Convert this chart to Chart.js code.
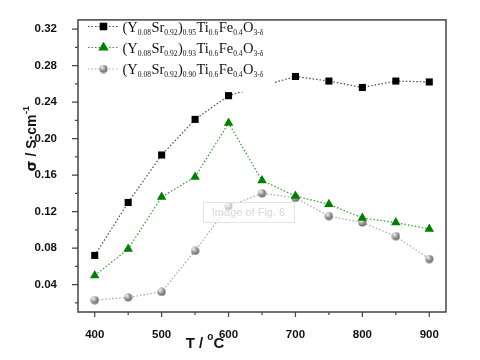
<!DOCTYPE html>
<html>
<head>
<meta charset="utf-8">
<script src="https://cdn.jsdelivr.net/npm/chart.js@4.4.1/dist/chart.umd.min.js"></script>
<style>
  html, body { margin: 0; padding: 0; background: #fff; }
  #wrap { width: 480px; height: 360px; }
</style>
</head>
<body>
<div id="wrap"><canvas id="sigmaChart" width="480" height="360"></canvas></div>
<script>
// temperatures (°C) and conductivities (S/cm)
const temps = [400, 450, 500, 550, 600, 650, 700, 750, 800, 850, 900];
const sigma095 = [0.072, 0.130, 0.182, 0.221, 0.247, null, 0.268, 0.263, 0.256, 0.263, 0.262];
const sigma093 = [0.050, 0.079, 0.136, 0.158, 0.217, 0.154, 0.137, 0.128, 0.113, 0.108, 0.101];
const sigma090 = [0.023, 0.026, 0.032, 0.077, 0.126, 0.140, 0.135, 0.115, 0.108, 0.093, 0.068];

const names = [
    "(Y_{0.08}Sr_{0.92})_{0.95}Ti_{0.6}Fe_{0.4}O_{3-δ}",
    "(Y_{0.08}Sr_{0.92})_{0.93}Ti_{0.6}Fe_{0.4}O_{3-δ}",
    "(Y_{0.08}Sr_{0.92})_{0.90}Ti_{0.6}Fe_{0.4}O_{3-δ}"
];

const xTicks = [400, 500, 600, 700, 800, 900];
const xMinor = [450, 550, 650, 750, 850];
const yTicks = [0.04, 0.08, 0.12, 0.16, 0.20, 0.24, 0.28, 0.32];
const yMinor = [0.02, 0.06, 0.10, 0.14, 0.18, 0.22, 0.26, 0.30];

const font = "'Liberation Sans', Arial, sans-serif";
const serif = "'Liberation Serif', 'Times New Roman', serif";

// small shaded sphere for the grey series
function makeSphere(r){
    let c = document.createElement("canvas");
    c.width = r * 2 + 1;
    c.height = r * 2 + 1;
    let g = c.getContext("2d");
    let grad = g.createRadialGradient(r * 0.7, r * 0.6, 0.5, r, r, r);
    grad.addColorStop(0, "#f2f2f2");
    grad.addColorStop(0.5, "#a8a8a8");
    grad.addColorStop(1, "#6e6e6e");
    g.fillStyle = grad;
    g.beginPath();
    g.arc(r + 0.5, r + 0.5, r, 0, Math.PI * 2);
    g.fill();
    return c;
}
const sphere = makeSphere(4);

function points(values){
    return temps.map((t, i) => ({x: t, y: values[i]}));
}

// split "A_{b}C" style text into [text, isSub] parts
function parts(str){
    let out = [];
    let re = /_\{([^}]*)\}|([^_]+)/g;
    let m;
    while ((m = re.exec(str)) !== null) {
        if (m[1] !== undefined) out.push([m[1], true]);
        else out.push([m[2], false]);
    }
    return out;
}

const extras = {
    id: "extras",
    afterDatasetsDraw(chart){
        let ctx = chart.ctx;
        let a = chart.chartArea;
        let xs = chart.scales.x;
        let ys = chart.scales.y;
        ctx.save();

        // watermark
        ctx.fillStyle = "rgba(255,255,255,0.6)";
        ctx.fillRect(203, 202, 91, 20);
        ctx.strokeStyle = "#e4e4e4";
        ctx.lineWidth = 1;
        ctx.strokeRect(203.5, 202.5, 91, 20);
        ctx.fillStyle = "#d8d8d8";
        ctx.font = "11px " + font;
        ctx.textAlign = "center";
        ctx.textBaseline = "middle";
        ctx.fillText("Image of Fig. 6", 248.5, 212.5);

        // legend
        ctx.fillStyle = "#fff";
        ctx.fillRect(a.left + 6, a.top + 2, 190, 70);
        let rowY = [26.5, 47.5, 69];
        chart.data.datasets.forEach((ds, i) => {
            let y = rowY[i];
            ctx.strokeStyle = ds.borderColor;
            ctx.lineWidth = 1.2;
            ctx.setLineDash([1.5, 2]);
            ctx.beginPath();
            ctx.moveTo(88, y);
            ctx.lineTo(118, y);
            ctx.stroke();
            ctx.setLineDash([]);
            ctx.fillStyle = ds.pointBackgroundColor;
            ctx.strokeStyle = ds.pointBorderColor;
            ctx.lineWidth = 0.5;
            Chart.helpers.drawPoint(ctx, {
                pointStyle: ds.pointStyle,
                radius: ds.pointRadius,
                borderWidth: 0.5
            }, 103.5, y);
            let x = 122.5;
            ctx.fillStyle = "#111";
            ctx.textAlign = "left";
            ctx.textBaseline = "alphabetic";
            parts(names[i]).forEach(p => {
                ctx.font = (p[1] ? "7.5px " : "14.5px ") + serif;
                ctx.fillText(p[0], x, y + (p[1] ? 8 : 5));
                x += ctx.measureText(p[0]).width + (p[1] ? 0.5 : 0);
            });
        });

        // frame and tick marks
        ctx.strokeStyle = "#444";
        ctx.lineWidth = 1.5;
        ctx.strokeRect(a.left, a.top, a.right - a.left, a.bottom - a.top);
        ctx.lineWidth = 1.2;
        ctx.beginPath();
        xTicks.forEach(v => {
            let px = xs.getPixelForValue(v);
            ctx.moveTo(px, a.bottom); ctx.lineTo(px, a.bottom + 5);
        });
        xMinor.forEach(v => {
            let px = xs.getPixelForValue(v);
            ctx.moveTo(px, a.bottom); ctx.lineTo(px, a.bottom + 3);
        });
        yTicks.forEach(v => {
            let py = ys.getPixelForValue(v);
            ctx.moveTo(a.left, py); ctx.lineTo(a.left - 6, py);
        });
        yMinor.forEach(v => {
            let py = ys.getPixelForValue(v);
            ctx.moveTo(a.left, py); ctx.lineTo(a.left - 3, py);
        });
        ctx.stroke();

        // axis titles
        ctx.fillStyle = "#111";
        ctx.textBaseline = "alphabetic";
        ctx.font = "bold 15px " + font;
        let t1 = "T / ", t2 = "o", t3 = "C";
        let w1 = ctx.measureText(t1).width;
        let w3 = ctx.measureText(t3).width;
        ctx.font = "bold 10px " + font;
        let w2 = ctx.measureText(t2).width;
        let tx = 205 - (w1 + w2 + w3) / 2;
        ctx.textAlign = "left";
        ctx.font = "bold 15px " + font;
        ctx.fillText(t1, tx, 348);
        ctx.font = "bold 10px " + font;
        ctx.fillText(t2, tx + w1, 340);
        ctx.font = "bold 15px " + font;
        ctx.fillText(t3, tx + w1 + w2, 348);

        ctx.translate(36, 139);
        ctx.rotate(-Math.PI / 2);
        ctx.font = "bold 14px 'DejaVu Sans', sans-serif";
        let s0 = "σ";
        let sw0 = ctx.measureText(s0).width;
        ctx.font = "bold 14px " + font;
        let s1 = " / S·cm";
        let sw1 = ctx.measureText(s1).width;
        ctx.font = "bold 9px " + font;
        let sw2 = ctx.measureText("-1").width;
        let sx = -(sw0 + sw1 + sw2) / 2;
        ctx.font = "bold 14px 'DejaVu Sans', sans-serif";
        ctx.fillText(s0, sx, 0);
        ctx.font = "bold 14px " + font;
        ctx.fillText(s1, sx + sw0, 0);
        ctx.font = "bold 9px " + font;
        ctx.fillText("-1", sx + sw0 + sw1 + 0.5, -7);
        ctx.restore();
    }
};

new Chart(document.getElementById("sigmaChart"), {
    type: "line",
    data: {
        datasets: [
            {
                data: points(sigma095),
                borderColor: "#4a4a4a",
                borderWidth: 1.2,
                borderDash: [1.5, 2],
                pointStyle: "rect",
                pointRadius: 5,
                pointBackgroundColor: "#000",
                pointBorderColor: "#000",
                pointBorderWidth: 0,
                spanGaps: true
            },
            {
                data: points(sigma093),
                borderColor: "#2aa02a",
                borderWidth: 1.2,
                borderDash: [1.5, 2],
                pointStyle: "triangle",
                pointRadius: 5.5,
                pointBackgroundColor: "#008000",
                pointBorderColor: "#008000",
                pointBorderWidth: 0
            },
            {
                data: points(sigma090),
                borderColor: "#a8a8a8",
                borderWidth: 1.2,
                borderDash: [1.5, 2],
                pointStyle: sphere,
                pointRadius: 4,
                pointBackgroundColor: "#999",
                pointBorderColor: "#999"
            }
        ]
    },
    options: {
        responsive: false,
        animation: false,
        layout: { padding: { top: 14, right: 34, left: 0, bottom: 0 } },
        plugins: { legend: { display: false }, tooltip: { enabled: false } },
        scales: {
            x: {
                type: "linear",
                min: 375,
                max: 925,
                afterBuildTicks: s => { s.ticks = xTicks.map(v => ({value: v})); },
                afterFit: s => { s.height = 48; },
                grid: { display: false },
                border: { display: false },
                ticks: {
                    padding: 8,
                    color: "#111",
                    font: { family: font, size: 11.5, weight: "bold" },
                    maxRotation: 0
                }
            },
            y: {
                min: 0.01,
                max: 0.33,
                afterBuildTicks: s => { s.ticks = yTicks.map(v => ({value: v})); },
                afterFit: s => { s.width = 78; },
                grid: { display: false },
                border: { display: false },
                ticks: {
                    padding: 13,
                    color: "#111",
                    font: { family: font, size: 11.5, weight: "bold" },
                    callback: v => v.toFixed(2)
                }
            }
        }
    },
    plugins: [extras]
});
</script>
</body>
</html>
